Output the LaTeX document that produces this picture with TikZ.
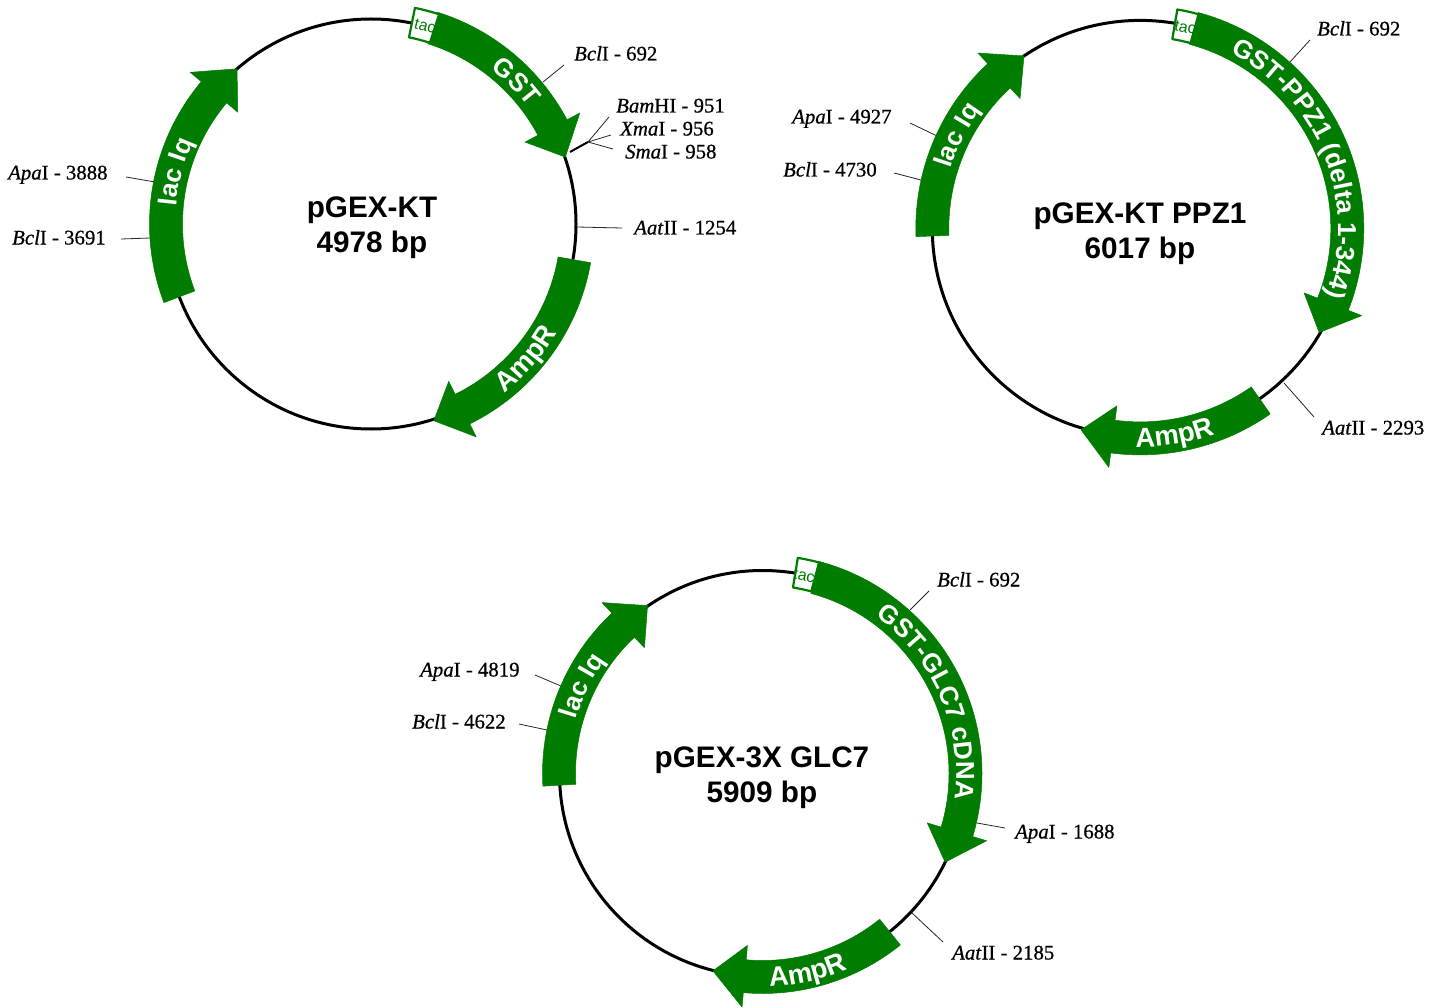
\documentclass[tikz,border=0pt]{standalone}
\usepackage{fontspec}
\setmainfont{Liberation Serif}[FakeBold=0.7]
\newfontfamily\sansbold{Liberation Sans Bold}
\newfontfamily\sansreg{Liberation Sans}
\usetikzlibrary{decorations.text}
\definecolor{genegreen}{RGB}{0,125,0}
\newcommand{\labelsize}{\fontsize{20.8}{22}\selectfont}
\newcommand{\titlesize}{\fontsize{29.7}{35}\sansbold}
\newcommand{\genefont}{\fontsize{26}{28}\sansbold\color{white}}
\newcommand{\ampfont}{\fontsize{27.5}{28}\sansbold\color{white}}
\tikzset{
  plasmid/.style={draw=black,line width=3pt,fill=none},
  genebody/.style={fill=genegreen,draw=genegreen,line width=0.5pt,line join=round},
  tacbox/.style={fill=white,draw=genegreen,line width=2.2pt,line join=round},
  tactext/.style={text=genegreen,font=\fontsize{16}{16}\sansreg,inner sep=0pt},
  leaderline/.style={draw=black!85,line width=0.8pt},
  sitelabel/.style={anchor=west,inner sep=0pt,font=\labelsize,text height=14pt,text depth=1pt},
  titlelabel/.style={align=center,inner sep=0pt,font=\titlesize},
}
% #1 radius, #2 start, #3 body end, #4 tip
\newcommand{\geneband}[4]{%
  \pgfmathsetmacro\ro{#1+16.5}\pgfmathsetmacro\ri{#1-16.5}%
  \pgfmathsetmacro\wo{#1+31}\pgfmathsetmacro\wi{#1-31}%
  \fill[genebody] (#2:\ro pt) arc[start angle=#2,end angle=#3,radius=\ro pt]
    -- (#3:\wo pt) -- (#4:#1 pt) -- (#3:\wi pt) -- (#3:\ri pt)
    arc[start angle=#3,end angle=#2,radius=\ri pt] -- cycle;
}
% #1 radius, #2 start, #3 end
\newcommand{\tacband}[3]{%
  \pgfmathsetmacro\ro{#1+15}\pgfmathsetmacro\ri{#1-15}%
  \draw[tacbox] (#2:\ro pt) arc[start angle=#2,end angle=#3,radius=\ro pt]
    -- (#3:\ri pt) arc[start angle=#3,end angle=#2,radius=\ri pt] -- cycle;
}
% #1 radius, #2 mid angle, #3 text : clockwise, letters' tops outward
\newcommand{\cwlabel}[3]{%
  \pgfmathsetmacro\rb{#1-9.3}\pgfmathsetmacro\aa{#2+65}\pgfmathsetmacro\ab{#2-65}%
  \path[decorate,decoration={text along path,text align=center,text={|\genefont|#3}}]
    (\aa:\rb pt) arc[start angle=\aa,end angle=\ab,radius=\rb pt];
}
% counter-clockwise, letters' tops inward
\newcommand{\ccwlabel}[3]{%
  \pgfmathsetmacro\rb{#1+9.8}\pgfmathsetmacro\aa{#2-40}\pgfmathsetmacro\ab{#2+40}%
  \path[decorate,decoration={text along path,text align=center,text={|\ampfont|#3}}]
    (\aa:\rb pt) arc[start angle=\aa,end angle=\ab,radius=\rb pt];
}
\newcommand{\siteline}[3]{%
  \coordinate (#1a) at (#2); \coordinate (#1b) at (#3);
  \draw[leaderline] (#1a) -- (#1b);
}
\begin{document}
\begin{tikzpicture}[x=1pt,y=1pt]
\useasboundingbox (0,0) rectangle (1447,-1008);
\fill[white] (0,0) rectangle (1447,-1008);

% ---------- pGEX-KT ----------
\siteline{ab}{543,-82}{564,-65}
\coordinate (abam) at (570,-152); \coordinate (afan) at (588,-142);
\draw[black,line width=2pt] (abam) -- (afan);
\siteline{ac}{588,-142}{609,-117}
\siteline{ad}{588,-142}{611,-135}
\siteline{ae}{588,-142}{613,-149}
\siteline{af}{577,-227}{622,-228}
\siteline{ag}{126,-177}{155,-182}
\siteline{ah}{121,-239}{150,-238}
\begin{scope}[shift={(371,-224)}]
  \draw[plasmid] (0,0) circle[radius=205pt];
  \geneband{205.5}{72.5}{28}{19}
  \geneband{206.5}{-10}{-63.7}{-72.3}
  \geneband{205}{200.8}{140}{130.8}
  \tacband{205.5}{78.5}{72}
  \node[tactext,rotate=-15] (atac) at (74.7:205pt) {tac};
  \cwlabel{205}{44.5}{GST}
  \ccwlabel{206}{-41}{AmpR}
  \cwlabel{205}{165}{lac Iq}
\end{scope}
\node[titlelabel] (atitle) at (372,-228) {pGEX-KT\\4978 bp};
\node[sitelabel] (abl) at (574,-54) {\textit{Bcl}I - 692};
\node[sitelabel] (acl) at (616,-106) {\textit{Bam}HI - 951};
\node[sitelabel] (adl) at (620,-129) {\textit{Xma}I - 956};
\node[sitelabel] (ael) at (625,-152) {\textit{Sma}I - 958};
\node[sitelabel] (afl) at (634,-228) {\textit{Aat}II - 1254};
\node[sitelabel] (agl) at (8,-173) {\textit{Apa}I - 3888};
\node[sitelabel] (ahl) at (12,-238) {\textit{Bcl}I - 3691};

% ---------- pGEX-KT PPZ1 ----------
\siteline{bb}{1290,-62}{1310,-40}
\siteline{bc}{1284,-383}{1314,-417}
\siteline{bd}{910,-123}{937,-136}
\siteline{be}{894,-173}{921,-180}
\begin{scope}[shift={(1140.3,-228.4)}]
  \draw[plasmid] (0,0) circle[radius=208pt];
  \geneband{207}{75}{-21.5}{-30.2}
  \geneband{210}{-55}{-97.5}{-106.4}
  \geneband{208}{182.1}{132.8}{124}
  \tacband{207}{80.4}{74.8}
  \node[tactext,rotate=-12] (btac) at (77.4:206pt) {tac};
  \cwlabel{207}{21.5}{GST-PPZ1 (delta 1-344)}
  \ccwlabel{209}{-80.6}{AmpR}
  \cwlabel{208}{153}{lac Iq}
\end{scope}
\node[titlelabel] (btitle) at (1140,-234) {pGEX-KT PPZ1\\6017 bp};
\node[sitelabel] (bbl) at (1317,-29) {\textit{Bcl}I - 692};
\node[sitelabel] (bcl) at (1322,-428) {\textit{Aat}II - 2293};
\node[sitelabel] (bdl) at (792,-117) {\textit{Apa}I - 4927};
\node[sitelabel] (bel) at (783,-170) {\textit{Bcl}I - 4730};

% ---------- pGEX-3X GLC7 ----------
\siteline{cb}{910,-610}{929,-591}
\siteline{cc}{977,-823}{1005,-828}
\siteline{cd}{912,-913}{943,-942}
\siteline{ce}{535,-675}{561,-686}
\siteline{cf}{519,-724}{547,-730}
\begin{scope}[shift={(762.5,-773.5)}]
  \draw[plasmid] (0,0) circle[radius=203pt];
  \geneband{203}{75}{-16.7}{-25.9}
  \geneband{203.5}{-51.2}{-95}{-104.1}
  \geneband{203.5}{183.3}{133.2}{124.4}
  \tacband{203.5}{80.7}{75}
  \node[tactext,rotate=-12] (ctac) at (78.1:202pt) {tac};
  \cwlabel{203}{23.5}{GST-GLC7 cDNA}
  \ccwlabel{203.5}{-77.2}{AmpR}
  \cwlabel{203.5}{154}{lac Iq}
\end{scope}
\node[titlelabel] (ctitle) at (762,-777.5) {pGEX-3X GLC7\\5909 bp};
\node[sitelabel] (cbl) at (937,-580) {\textit{Bcl}I - 692};
\node[sitelabel] (ccl) at (1015,-832) {\textit{Apa}I - 1688};
\node[sitelabel] (cdl) at (952,-953) {\textit{Aat}II - 2185};
\node[sitelabel] (cel) at (420,-670) {\textit{Apa}I - 4819};
\node[sitelabel] (cfl) at (412,-722) {\textit{Bcl}I - 4622};
\end{tikzpicture}
\end{document}
